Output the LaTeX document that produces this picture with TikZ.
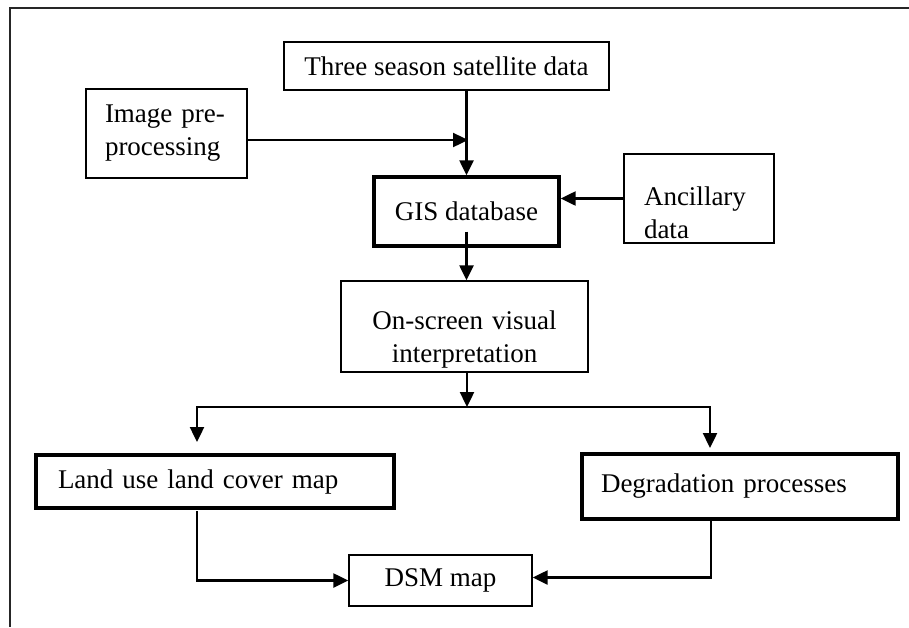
\documentclass[tikz,border=0pt]{standalone}
\usepackage{fontspec}
\setmainfont{Liberation Serif}
\usepackage{tikz}
\usetikzlibrary{arrows.meta}
\tikzstyle{thinbox}  = [draw,line width=1.4pt,inner ysep=0pt,font=\fontsize{27}{33}\selectfont]
\tikzstyle{thickbox} = [draw,line width=3.4pt,inner ysep=0pt,font=\fontsize{27}{33}\selectfont]

\begin{document}
\begin{tikzpicture}[x=1pt,y=-1pt,->,>={Triangle[length=15pt,width=14pt]},line width=2.4pt]

\useasboundingbox (0,0) rectangle (909,627);
\draw[-,line width=1.8pt,black!85] (909,8) -- (10,8) -- (10,627);

\node[thinbox]  (three)  at (446.5,66)  [minimum width=325pt,minimum height=48pt] {Three season satellite data};
\node[thinbox]  (imgpre) at (166.5,133.5) [minimum width=161pt,minimum height=89pt,inner xsep=19pt,text width=123pt,align=left] {Image pre-\\processing};
\node[thickbox] (gis)    at (466.5,211.5) [minimum width=185pt,minimum height=69pt] {GIS database};
\node[thinbox]  (anc)    at (699,198.5) [minimum width=150pt,minimum height=89pt,inner xsep=20pt,text width=110pt,align=left] {\rule{0pt}{48pt}Ancillary\\data};
\node[thinbox]  (ons)    at (464.5,326.5) [minimum width=247pt,minimum height=91pt,inner xsep=10pt,text width=227pt,align=center] {\rule{0pt}{45pt}On-screen visual\\interpretation};
\node[thickbox] (lu)     at (215,481.5) [minimum width=358pt,minimum height=53pt,inner xsep=22pt,text width=314pt,align=left] {Land use land cover map};
\node[thickbox] (dg)     at (740,486.5) [minimum width=316pt,minimum height=65pt,inner xsep=19pt,text width=278pt,align=left] {Degradation processes};
\node[thinbox]  (dsm)    at (440.5,580.5) [minimum width=183pt,minimum height=51pt] {DSM map};

\coordinate (join)  at (468,140);
\coordinate (split) at (467,407);
\coordinate (lutop) at (197,442);
\coordinate (dgtop) at (710,448);
\coordinate (luout) at (197,511);
\coordinate (dgout) at (711,519);

\path
    (three.south -| gis.north) edge (gis.north)
    (imgpre.east |- join)      edge (join)
    (anc.west)                 edge (anc.west -| gis.east)
    ([yshift=16pt]gis.south)   edge (ons.north -| gis.south)
    (ons.south -| split)       edge (split);

\draw (split) -| (lutop);
\draw (split) -| (dgtop);
\draw (luout) |- (dsm.west);
\draw (dgout) |- ([yshift=3pt]dsm.east);

\end{tikzpicture}
\end{document}
